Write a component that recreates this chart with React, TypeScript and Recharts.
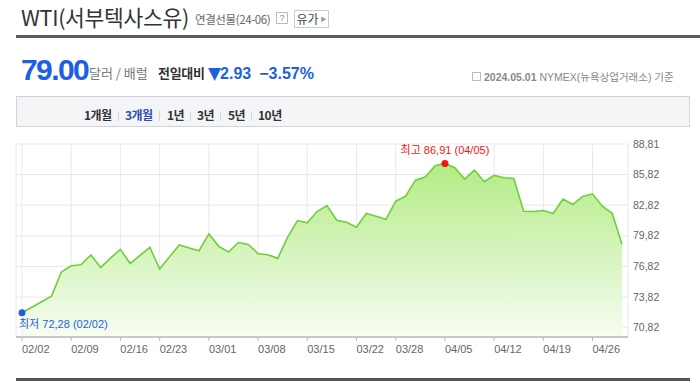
import { AreaChart, Area, XAxis, YAxis, CartesianGrid } from 'recharts'

// ─── Data (WTI 연결선물, 3개월) ───────────────────────────────────────────────
const DATES = [
  '02/02', '02/05', '02/06', '02/07', '02/08', '02/09', '02/12', '02/13', '02/14', '02/15',
  '02/16', '02/20', '02/21', '02/22', '02/23', '02/26', '02/27', '02/28', '02/29', '03/01',
  '03/04', '03/05', '03/06', '03/07', '03/08', '03/11', '03/12', '03/13', '03/14', '03/15',
  '03/18', '03/19', '03/20', '03/21', '03/22', '03/25', '03/26', '03/27', '03/28', '04/01',
  '04/02', '04/03', '04/04', '04/05', '04/08', '04/09', '04/10', '04/11', '04/12', '04/15',
  '04/16', '04/17', '04/18', '04/19', '04/22', '04/23', '04/24', '04/25', '04/26', '04/29',
  '04/30', '05/01',
]
const PRICES = [
  72.28, 72.82, 73.36, 73.91, 76.27, 76.89, 76.99, 77.94, 76.72, 77.64,
  78.49, 77.10, 77.90, 78.69, 76.56, 77.77, 78.92, 78.63, 78.36, 80.0,
  78.79, 78.23, 79.16, 78.98, 78.07, 77.97, 77.61, 79.67, 81.31, 81.09,
  82.2, 82.79, 81.34, 81.14, 80.67, 82.0, 81.73, 81.44, 83.21, 83.7,
  85.27, 85.57, 86.69, 86.91, 86.49, 85.38, 86.26, 85.12, 85.74, 85.51,
  85.44, 82.23, 82.2, 82.3, 82.0, 83.41, 82.89, 83.67, 83.93, 82.72,
  82.02, 79.0,
]
const X_TICKS = ['02/02', '02/09', '02/16', '02/23', '03/01', '03/08', '03/15', '03/22', '03/28', '04/05', '04/12', '04/19', '04/26']
const Y_TICKS = [70.82, 73.82, 76.82, 79.82, 82.82, 85.82, 88.81]
const PERIODS = [
  { label: '1개월', left: 84 },
  { label: '3개월', left: 125 },
  { label: '1년', left: 167 },
  { label: '3년', left: 197 },
  { label: '5년', left: 228 },
  { label: '10년', left: 258 },
]
const SEPS = [118, 159, 190, 220, 251]

const data = DATES.map((date, i) => ({ date, price: PRICES[i] }))
const maxIdx = PRICES.indexOf(Math.max(...PRICES))
const minIdx = PRICES.indexOf(Math.min(...PRICES))

const FONT = '"Liberation Sans", "Noto Sans CJK KR", sans-serif'
const KFONT = '"Noto Sans CJK KR", "Liberation Sans", sans-serif'
const BLUE = '#1c5fe0'
const RED = '#f51414'

const comma = (v: number) => v.toFixed(2).replace('.', ',')

function MarkDot(props: any) {
  const { cx, cy, index } = props
  if (index === maxIdx) {
    return (
      <g key={`d${index}`}>
        <circle cx={cx} cy={cy} r={3.5} fill={RED} />
        <text x={cx} y={cy - 9} textAnchor="middle" fill={RED} fontSize={11} fontFamily={FONT}>
          최고 {comma(PRICES[index])} ({DATES[index]})
        </text>
      </g>
    )
  }
  if (index === minIdx) {
    return (
      <g key={`d${index}`}>
        <circle cx={cx} cy={cy} r={3.5} fill={BLUE} />
        <text x={cx - 3} y={cy + 15} textAnchor="start" fill={BLUE} fontSize={11} fontFamily={FONT}>
          최저 {comma(PRICES[index])} ({DATES[index]})
        </text>
      </g>
    )
  }
  return <g key={`d${index}`} />
}

function XTick(props: any) {
  const { x, y, payload } = props
  return (
    <text x={x} y={y + 10} textAnchor="start" fill="#666" fontSize={11} fontFamily={FONT}>
      {payload.value}
    </text>
  )
}

function YTick(props: any) {
  const { x, y, payload } = props
  return (
    <text x={x} y={y} dy="0.35em" textAnchor="start" fill="#666" fontSize={10.5} fontFamily={FONT}>
      {comma(payload.value)}
    </text>
  )
}

const abs = (left: number, top: number, extra: any = {}) => ({ position: 'absolute' as const, left, top, whiteSpace: 'nowrap' as const, ...extra })

export default function App() {
  return (
    <div style={{ position: 'relative', width: 700, height: 383, background: '#fff', fontFamily: FONT, overflow: 'hidden' }}>
      <style>{'body{margin:0}'}</style>

      {/* Header */}
      <div style={abs(21, 4, { fontSize: 21.5, lineHeight: '25px', color: '#333', fontFamily: KFONT, letterSpacing: -0.3 })}>
        WTI(서부텍사스유)
      </div>
      <div style={abs(195, 12, { fontSize: 11.5, lineHeight: '14px', color: '#666', fontFamily: KFONT, letterSpacing: -0.4 })}>
        연결선물(24-06)
      </div>
      <div style={abs(276, 12, { width: 10, height: 10, border: '1px solid #bbb', fontSize: 9, lineHeight: '10px', textAlign: 'center', color: '#888' })}>
        ?
      </div>
      <div style={abs(294, 10, { width: 35, height: 18, border: '1px solid #ccc', background: '#fff', color: '#444', fontFamily: KFONT, boxSizing: 'border-box', display: 'flex', alignItems: 'center', justifyContent: 'center', gap: 2 })}>
        <span style={{ fontSize: 12, lineHeight: '14px' }}>유가</span>
        <span style={{ fontSize: 6, lineHeight: '6px', color: '#999' }}>▶</span>
      </div>
      <div style={abs(16, 35, { width: 684, height: 3, background: '#5c5c5c' })} />

      {/* Price row */}
      <div style={abs(21, 54, { fontSize: 30, lineHeight: '32px', fontWeight: 'bold', color: BLUE, letterSpacing: -1.6 })}>79.00</div>
      <div style={abs(89, 65, { fontSize: 13, lineHeight: '16px', color: '#777', fontFamily: KFONT })}>달러 / 배럴</div>
      <div style={abs(158, 65, { fontSize: 13, lineHeight: '16px', color: '#333', fontWeight: 'bold', fontFamily: KFONT, letterSpacing: -0.3 })}>전일대비</div>
      <div style={abs(208, 64, { fontSize: 16, lineHeight: '18px', color: BLUE, fontWeight: 'bold' })}>
        <span style={{ fontSize: 17, fontFamily: '"DejaVu Sans", sans-serif', letterSpacing: -1 }}>▼</span>2.93<span style={{ marginLeft: 8 }}>−3.57%</span>
      </div>
      <div style={abs(472, 72, { width: 9, height: 9, border: '1px solid #bbb', boxSizing: 'border-box' })} />
      <div style={abs(484, 70, { fontSize: 10.5, lineHeight: '14px', color: '#888' })}>
        <b>2024.05.01</b> NYMEX(뉴욕상업거래소) 기준
      </div>

      {/* Period tabs */}
      <div style={abs(16, 96, { width: 674, height: 31, background: '#f4f5f7', border: '1px solid #d2d4d9', boxSizing: 'border-box' })} />
      {PERIODS.map(p => (
        <div key={p.label} style={abs(p.left, 108, { fontSize: 12, lineHeight: '14px', fontWeight: 'bold', color: p.label === '3개월' ? '#2b4fb5' : '#333', fontFamily: KFONT, letterSpacing: -0.5 })}>
          {p.label}
        </div>
      ))}
      {SEPS.map(x => (
        <div key={x} style={abs(x, 111, { width: 1, height: 10, background: '#d6d6d6' })} />
      ))}

      {/* Chart */}
      <div style={abs(0, 130)}>
        <AreaChart width={700} height={250} data={data} margin={{ top: 14, right: 12, bottom: 13, left: 16 }}>
          <defs>
            <linearGradient id="wtiFill" x1="0" y1="0" x2="0" y2="1">
              <stop offset="0%" stopColor="#b3eb85" stopOpacity={1} />
              <stop offset="100%" stopColor="#f7fdf2" stopOpacity={1} />
            </linearGradient>
          </defs>
          <CartesianGrid stroke="#e8e8e8" />
          <XAxis
            dataKey="date"
            ticks={X_TICKS}
            interval={0}
            padding={{ left: 6, right: 6 }}
            height={30}
            tickSize={4}
            tickMargin={2}
            axisLine={{ stroke: '#999' }}
            tickLine={{ stroke: '#bbb' }}
            tick={<XTick />}
          />
          <YAxis
            orientation="right"
            type="number"
            domain={[69.91, 88.81]}
            ticks={Y_TICKS}
            allowDataOverflow
            width={60}
            axisLine={false}
            tickLine={false}
            tickSize={0}
            tickMargin={5}
            tick={<YTick />}
          />
          <Area
            type="linear"
            dataKey="price"
            stroke="#6fce3b"
            strokeWidth={1.6}
            fill="url(#wtiFill)"
            fillOpacity={1}
            dot={<MarkDot />}
            activeDot={false}
            isAnimationActive={false}
          />
        </AreaChart>
      </div>

      <div style={abs(16, 378, { width: 674, height: 3, background: '#555' })} />
    </div>
  )
}
